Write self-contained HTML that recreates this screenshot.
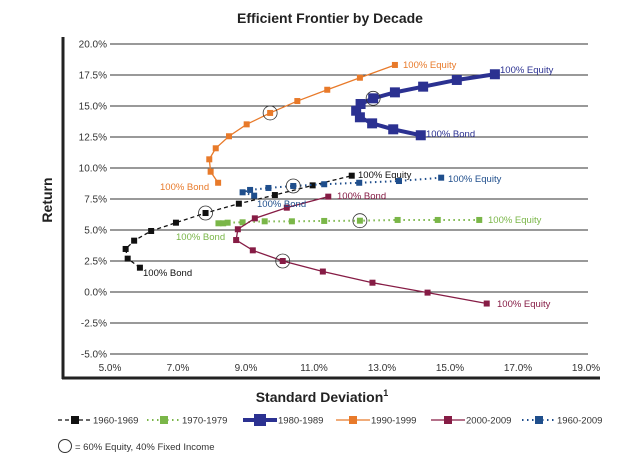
<!DOCTYPE html>
<html><head><meta charset="utf-8"><style>
body{margin:0;background:#fff;}
svg{display:block;font-family:"Liberation Sans",sans-serif;}
</style></head><body>
<svg id="chart" width="640" height="466" viewBox="0 0 640 466" xmlns="http://www.w3.org/2000/svg">
<text x="330" y="23" text-anchor="middle" font-size="14" font-weight="bold" fill="#222">Efficient Frontier by Decade</text>
<g id="grid"></g>
<g id="series"></g>
<line x1="63" y1="37" x2="63" y2="379" stroke="#222" stroke-width="3"/>
<line x1="62" y1="378" x2="600" y2="378" stroke="#222" stroke-width="3"/>
<text transform="translate(52,200) rotate(-90)" text-anchor="middle" font-size="14" font-weight="bold" fill="#222">Return</text>
<text x="322" y="402" text-anchor="middle" font-size="14" font-weight="bold" fill="#222">Standard Deviation<tspan font-size="9" dy="-6">1</tspan></text>
<g id="legend"></g>
<circle cx="65" cy="446" r="6.5" fill="none" stroke="#333" stroke-width="1"/>
<text x="75" y="450" font-size="9.5" fill="#333">= 60% Equity, 40% Fixed Income</text>
</svg>
<script>
const xTicks=[5,7,9,11,13,15,17,19];
const yTicks=[20,17.5,15,12.5,10,7.5,5,2.5,0,-2.5,-5];
const names=["1960-1969","1970-1979","1980-1989","1990-1999","2000-2009","1960-2009"];
const sd1960=[5.88,5.52,5.46,5.71,6.21,6.94,7.81,8.79,9.85,10.96,12.11];
const ret1960=[1.96,2.69,3.47,4.14,4.92,5.59,6.37,7.12,7.82,8.6,9.38];
const sd1970=[8.19,8.33,8.46,8.9,9.55,10.35,11.3,12.35,13.46,14.64,15.86];
const ret1970=[5.54,5.54,5.59,5.62,5.7,5.7,5.73,5.75,5.81,5.81,5.81];
const sd1980=[14.14,13.33,12.71,12.35,12.24,12.37,12.74,13.38,14.21,15.2,16.32];
const ret1980=[12.64,13.12,13.6,14.09,14.62,15.16,15.62,16.1,16.56,17.1,17.56];
const sd1990=[8.18,7.96,7.92,8.11,8.5,9.02,9.71,10.51,11.39,12.35,13.38];
const ret1990=[8.81,9.7,10.7,11.59,12.56,13.52,14.44,15.4,16.31,17.28,18.31];
const sd2000=[11.42,10.2,9.26,8.76,8.71,9.2,10.08,11.26,12.72,14.34,16.08];
const ret2000=[7.69,6.8,5.94,5.06,4.19,3.36,2.5,1.65,0.75,-0.05,-0.93];
const sdAll=[9.24,8.9,9.12,9.66,10.39,11.3,12.33,13.5,14.74];
const retAll=[7.77,8.04,8.23,8.39,8.55,8.69,8.81,8.95,9.22];
const circleIdx=[6,7,6,6,6,4];

const X=v=>110+(v-5)*34;
const Y=v=>292-v*12.4;
const NS="http://www.w3.org/2000/svg";
function mk(tag,attrs,parent){const e=document.createElementNS(NS,tag);for(const k in attrs)e.setAttribute(k,attrs[k]);parent.appendChild(e);return e;}
const grid=document.getElementById('grid');
yTicks.forEach(t=>{
 const l=mk('line',{x1:110,x2:588,y1:Y(t),y2:Y(t),stroke:'#333','stroke-width':1},grid);
 
 
 const tx=mk('text',{x:107,y:Y(t)+3.5,'text-anchor':'end','font-size':10,fill:'#333'},grid);
 tx.textContent=t.toFixed(1)+'%';
 
 
});
xTicks.forEach(t=>{
 const tx=mk('text',{x:X(t),y:371,'text-anchor':'middle','font-size':10,fill:'#333'},grid);
 tx.textContent=t.toFixed(1)+'%';
 
 
});
const styles=[
 {c:'#111',w:1.3,d:'4,3',m:6},
 {c:'#7ab648',w:2,d:'1.5,3.5',m:6},
 {c:'#2b3191',w:4,d:'',m:10},
 {c:'#e87a2a',w:1.3,d:'',m:6},
 {c:'#861c45',w:1.3,d:'',m:6},
 {c:'#1f4e8c',w:2,d:'1.5,3.5',m:6}];
const sds=[sd1960,sd1970,sd1980,sd1990,sd2000,sdAll];
const rets=[ret1960,ret1970,ret1980,ret1990,ret2000,retAll];
const S=document.getElementById('series');
sds.forEach((sd,i)=>{
 const st=styles[i];
 const g=mk('g',{},S);
 
 
 const pts=sd.map((v,j)=>X(v)+','+Y(rets[i][j])).join(' ');
 const pl=mk('polyline',{points:pts,fill:'none',stroke:st.c,'stroke-width':st.w,'stroke-dasharray':st.d},g);
 
 
 sd.forEach((v,j)=>{
  const r=mk('rect',{x:X(v)-st.m/2,y:Y(rets[i][j])-st.m/2,width:st.m,height:st.m,fill:st.c},g);
  
  
 });
 const k=circleIdx[i];
 const c=mk('circle',{cx:X(sd[k]),cy:Y(rets[i][k]),r:7,fill:'none',stroke:'#333','stroke-width':0.8},g);
 
 
});
const labels=[
 ['100% Equity',403,68,'#e87a2a'],['100% Bond',160,190,'#e87a2a'],
 ['100% Equity',500,73,'#2b3191'],['100% Bond',426,137,'#2b3191'],
 ['100% Equity',358,178,'#111'],['100% Bond',143,276,'#111'],
 ['100% Bond',176,240,'#7ab648'],['100% Equity',488,223,'#7ab648'],
 ['100% Bond',337,199,'#861c45'],['100% Equity',497,307,'#861c45'],
 ['100% Equity',448,182,'#1f4e8c'],['100% Bond',257,207,'#1f4e8c']];
labels.forEach(l=>{
 const t=mk('text',{x:l[1],y:l[2],'font-size':9.5,fill:l[3]},S);
 t.textContent=l[0];
 
 
});
const L=document.getElementById('legend');
const lx=[58,147,243,336,431,522];
names.forEach((n,i)=>{
 const st=styles[i];const x=lx[i];
 const g=mk('g',{},L);
 
 
 mk('line',{x1:x,x2:x+34,y1:420,y2:420,stroke:st.c,'stroke-width':st.w,'stroke-dasharray':st.d},g);
 const m=i==2?12:8;
 mk('rect',{x:x+17-m/2,y:420-m/2,width:m,height:m,fill:st.c},g);
 const t=mk('text',{x:x+35,y:423.5,'font-size':9.5,fill:'#333'},g);
 t.textContent=n;
});
</script>
</body></html>
